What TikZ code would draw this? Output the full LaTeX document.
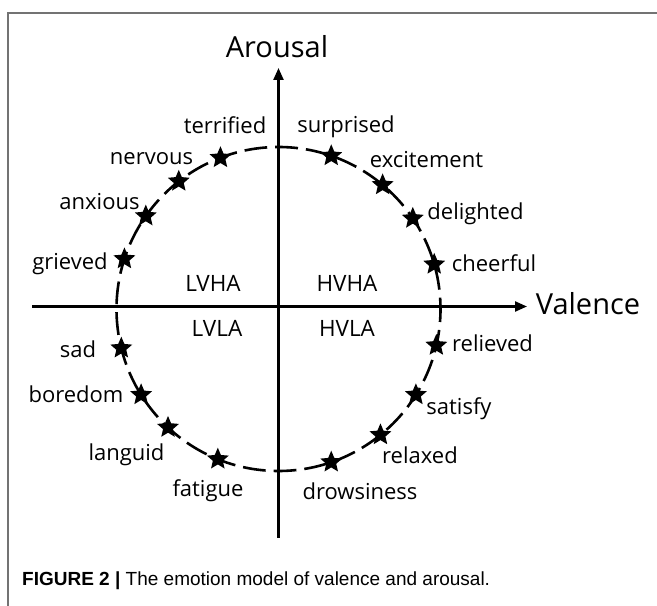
\documentclass[tikz,border=0pt]{standalone}
\usepackage{fontspec}
\setmainfont{Open Sans}
\newfontfamily\capfont{Liberation Sans}
\usetikzlibrary{shapes.geometric,arrows.meta}
\begin{document}
\begin{tikzpicture}[x=1pt,y=1pt,
  axisline/.style={line width=2.3pt,-{Triangle[length=12pt,width=10pt]}},
  emostar/.style={star,star points=5,star point ratio=2.2,minimum size=23pt,inner sep=0pt,outer sep=0pt,fill=black},
  emo/.style={anchor=base,inner sep=0pt,font=\fontsize{22}{26}\selectfont},
  quad/.style={anchor=base,inner sep=0pt,font=\fontsize{22.5}{27}\selectfont},
  axlabel/.style={anchor=base,inner sep=0pt,font=\fontsize{29}{34}\selectfont},
  ring/.style={circle,draw,line width=2.6pt,dash pattern=on 22.8pt off 8pt,dash phase=11.4pt,minimum size=324pt,inner sep=0pt,outer sep=0pt},
  frameline/.style={draw=black!55,line width=1.2pt}]
\useasboundingbox (0,0) rectangle (657,606);
% frame
\coordinate (fr) at (657,593);
\coordinate (fc) at (8,593);
\coordinate (fb) at (8,0);
\draw[frameline] (fr) -- (fc) -- (fb);
% axes
\coordinate (vbot) at (278.5,68);
\coordinate (vtop) at (278.5,538);
\coordinate (hleft) at (32,299.5);
\coordinate (hright) at (527,299.5);
\draw[axisline] (vbot) -- (vtop);
\draw[axisline] (hleft) -- (hright);
\node[axlabel] (arousal) at (277,548.7) {Arousal};
\node[axlabel] (valence) at (588,291) {Valence};
% ring
\node[ring] (ring) at (278.5,297) {};
% quadrants
\node[quad] (lvha) at (213,314.3) {LVHA};
\node[quad] (hvha) at (347,314.3) {HVHA};
\node[quad] (lvla) at (217,269.3) {LVLA};
\node[quad] (hvla) at (347,269.3) {HVLA};
% stars
\node[emostar] (sTer) at (ring.111.2) {};
\node[emostar] (sNer) at (ring.128.6) {};
\node[emostar] (sAnx) at (ring.145.6) {};
\node[emostar] (sGri) at (ring.162.8) {};
\node[emostar] (sSad) at (ring.194.7) {};
\node[emostar] (sBor) at (ring.212.8) {};
\node[emostar] (sLan) at (ring.227.9) {};
\node[emostar] (sFat) at (ring.248.8) {};
\node[emostar] (sDro) at (ring.289.4) {};
\node[emostar] (sRla) at (ring.309.6) {};
\node[emostar] (sSat) at (ring.328.8) {};
\node[emostar] (sRli) at (ring.347.2) {};
\node[emostar] (sChe) at (ring.16.6) {};
\node[emostar] (sDel) at (ring.34.4) {};
\node[emostar] (sExc) at (ring.50.5) {};
\node[emostar] (sSur) at (ring.71.3) {};
% labels
\node[emo] (lTer) at (225,472.7) {terrified};
\node[emo] (lSur) at (346,473) {surprised};
\node[emo] (lExc) at (426.5,438) {excitement};
\node[emo] (lNer) at (151.5,441) {nervous};
\node[emo] (lAnx) at (99.5,396) {anxious};
\node[emo] (lGri) at (70,336) {grieved};
\node[emo] (lDel) at (475.5,386) {delighted};
\node[emo] (lChe) at (494,334.3) {cheerful};
\node[emo] (lSad) at (78,248) {sad};
\node[emo] (lBor) at (76,203.3) {boredom};
\node[emo] (lLan) at (126.5,145.3) {languid};
\node[emo] (lFat) at (208,109) {fatigue};
\node[emo] (lRli) at (492.5,254.3) {relieved};
\node[emo] (lSat) at (459,191) {satisfy};
\node[emo] (lRla) at (420,142.7) {relaxed};
\node[emo] (lDro) at (360,106) {drowsiness};
% caption
\node[anchor=base west,inner sep=0pt,font=\capfont\fontsize{19}{22}\selectfont] (cap) at (22,20) {\textbf{FIGURE 2 |} The emotion model of valence and arousal.};
\end{tikzpicture}
\end{document}
